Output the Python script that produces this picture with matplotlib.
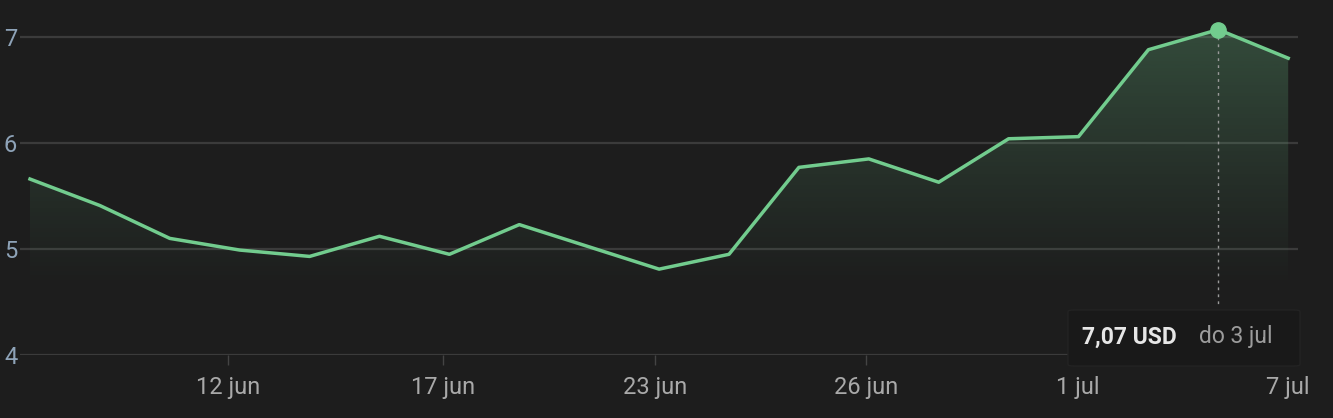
import matplotlib
matplotlib.use("Agg")
import matplotlib.pyplot as plt
import numpy as np
from matplotlib.colors import to_rgb
from matplotlib.patches import FancyBboxPatch

# dados (preço em USD por ponto amostrado)
prices = [5.66, 5.41, 5.10, 4.99, 4.93, 5.12, 4.95, 5.23, 5.02, 4.81,
          4.95, 5.77, 5.85, 5.63, 6.04, 6.06, 6.88, 7.07, 6.80]
tick_pos = [2.83, 5.91, 8.94, 11.96, 14.99, 18.0]
tick_labels = ["12 jun", "17 jun", "23 jun", "26 jun", "1 jul", "7 jul"]
y_ticks = [4, 5, 6, 7]
hover_idx = 17
hover_label = "7,07 USD"
hover_date = "do 3 jul"

bg = "#1d1d1d"
green = "#72cc8e"

plt.rcParams['font.family'] = ['Roboto', 'DejaVu Sans']

W, H = 1333, 418
fig = plt.figure(figsize=(W / 100, H / 100), dpi=100, facecolor=bg)
ax = fig.add_axes([20 / W, (H - 355) / H, 1278 / W, 355 / H], facecolor=bg)

x = np.arange(len(prices))
ax.set_xlim(-10 / 69.9, 1268 / 69.9)
ax.set_ylim(4, 7 + 37 / 106)

# grade
for v in y_ticks:
    ax.axhline(v, color="#3b3b3b", lw=1.6, zorder=1)

# preenchimento em degradê
base = 4.6
poly = ax.fill_between(x, prices, base, color="none", lw=0)
grad = np.zeros((256, 1, 4))
grad[:, 0, :3] = to_rgb(green)
grad[:, 0, 3] = np.linspace(0.30, 0.0, 256) ** 1.1
img = ax.imshow(grad, aspect="auto", extent=[0, len(prices) - 1, base, max(prices)],
                origin="upper", zorder=2)
img.set_clip_path(poly.get_paths()[0], transform=ax.transData)

ax.plot(x, prices, color=green, lw=2.5, zorder=3, solid_joinstyle="round")

# destaque
ax.plot([hover_idx, hover_idx], [prices[hover_idx], 4.45], color="#9a9a9a",
        lw=1, ls=(0, (2, 3)), zorder=3)
ax.plot(hover_idx, prices[hover_idx], "o", ms=11, color=green, zorder=4)

box = FancyBboxPatch((1068 / W, (H - 366) / H), 232 / W, 56 / H,
                     boxstyle="round,pad=0,rounding_size=0.004",
                     transform=fig.transFigure, facecolor="#191919",
                     edgecolor="#232323", lw=1, zorder=5)
fig.patches.append(box)
fig.text(1082 / W, (H - 337) / H, hover_label, color="#e6e6e6", fontsize=16.5,
         fontweight="bold", va="center", ha="left", zorder=6)
fig.text(1199 / W, (H - 337) / H, hover_date, color="#9c9c9c", fontsize=16.5,
         va="center", ha="left", zorder=6)

# eixos
ax.set_yticks(y_ticks)
ax.set_yticklabels([str(v) for v in y_ticks])
ax.set_xticks(tick_pos)
ax.set_xticklabels(tick_labels)
ax.tick_params(axis="y", length=0, pad=2, labelsize=17, labelcolor="#8ea3b8")
ax.tick_params(axis="x", length=7, width=1, color="#444444", pad=8,
               labelsize=17, labelcolor="#a9a9a9")
for s in ax.spines.values():
    s.set_visible(False)

fig.savefig("out.png", dpi=100, facecolor=bg)
